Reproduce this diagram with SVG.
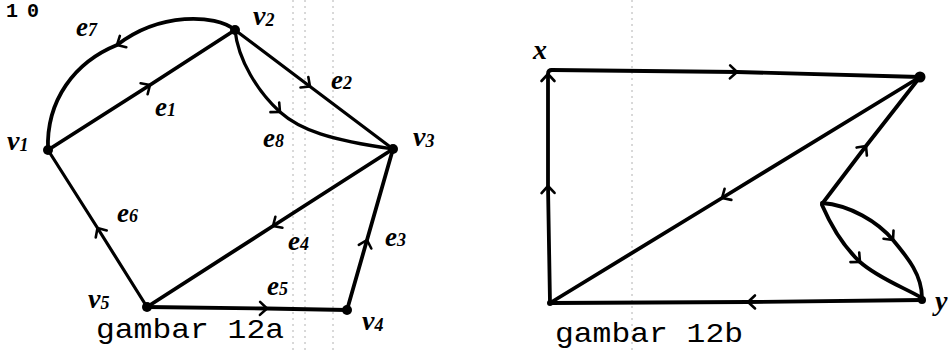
<svg xmlns="http://www.w3.org/2000/svg" width="949" height="351" viewBox="0 0 949 351">
<style>
.edge{fill:none;stroke:#000;stroke-width:3.8;stroke-linecap:round;stroke-linejoin:round;marker-mid:url(#chev)}
.thin{stroke-width:3.2}
.dot{fill:#000}
.lbl{font-family:"Liberation Serif",serif;font-style:italic;font-weight:bold;fill:#000}
.v{font-size:28px}
.e{font-size:27px}
.sub{font-size:18px}
.mono{font-family:"Liberation Mono",monospace;fill:#000}
.scan{stroke:#777;stroke-width:1;stroke-dasharray:2 4;opacity:0.55}
</style>
<defs>
<marker id="chev" markerUnits="userSpaceOnUse" markerWidth="20" markerHeight="20" viewBox="-10 -10 20 20" refX="0" refY="0" orient="auto" overflow="visible">
<path d="M-7,-6.5 L0,0 L-7,6.5" fill="none" stroke="#000" stroke-width="2.6" stroke-linecap="round" stroke-linejoin="round"/>
</marker>
</defs>
<rect width="949" height="351" fill="#fff"/>
<g id="scan-lines">
<line class="scan" x1="293" y1="0" x2="293" y2="351"/>
<line class="scan" x1="305" y1="0" x2="305" y2="351"/>
<line class="scan" x1="333" y1="0" x2="333" y2="351"/>
<line class="scan" x1="632" y1="0" x2="632" y2="351"/>
</g>
<g id="connectors">
<path id="e1" class="edge" d="M48,150 L150,85 L235,30"/>
<path id="e7" class="edge" d="M235,30 C215,14 160,12 117,45 C75,62 46,100 48,150"/>
<path id="e2" class="edge thin" d="M235,30 L310,86.5 L393,149"/>
<path id="e8" class="edge thin" d="M235,30 C238,60 258,92 280,112 C300,130 330,140 393,149"/>
<path id="e4" class="edge" d="M393,149 L273,226 L147,307"/>
<path id="e3" class="edge" d="M347,310 L367,240 L393,149"/>
<path id="e5" class="edge" d="M147,307 L267,308.5 L347,310"/>
<path id="e6" class="edge thin" d="M147,307 L97.5,228 L48,150"/>
<path id="r-left" class="edge" d="M550,303 L548,186 L548,74 Q548,70 552,70"/>
<path id="r-top" class="edge" d="M552,70 L737,72 L920,77"/>
<path id="r-bottom" class="edge" d="M922,300 L748,302 L550,303"/>
<path id="r-diag" class="edge" d="M920,77 L722,198 L550,303"/>
<path id="r-up" class="edge" d="M822,204 L866,146 L920,77"/>
<path id="r-arc1" class="edge" d="M822,203 C850,205 878,222 893,240 C908,258 922,275 922,298"/>
<path id="r-arc2" class="edge" d="M822,205 C832,228 845,248 860,262 C878,278 905,288 922,298"/>
</g>
<g id="v1"><circle class="dot" cx="48" cy="150" r="5"/><text class="lbl v" x="7" y="150">v<tspan class="sub" dy="1">1</tspan></text></g>
<g id="v2"><circle class="dot" cx="235" cy="30" r="5"/><text class="lbl v" x="253" y="25">v<tspan class="sub" dy="1">2</tspan></text></g>
<g id="v3"><circle class="dot" cx="393" cy="149" r="5"/><text class="lbl v" x="413" y="146">v<tspan class="sub" dy="1">3</tspan></text></g>
<g id="v4"><circle class="dot" cx="347" cy="310" r="5"/><text class="lbl v" x="362" y="330">v<tspan class="sub" dy="1">4</tspan></text></g>
<g id="v5"><circle class="dot" cx="147" cy="307" r="5"/><text class="lbl v" x="88" y="308">v<tspan class="sub" dy="1">5</tspan></text></g>
<g id="edge-labels">
<text class="lbl e" x="76" y="36">e<tspan class="sub">7</tspan></text>
<text class="lbl e" x="155" y="116">e<tspan class="sub">1</tspan></text>
<text class="lbl e" x="331" y="89">e<tspan class="sub">2</tspan></text>
<text class="lbl e" x="263" y="147">e<tspan class="sub">8</tspan></text>
<text class="lbl e" x="288" y="250">e<tspan class="sub">4</tspan></text>
<text class="lbl e" x="385" y="246">e<tspan class="sub">3</tspan></text>
<text class="lbl e" x="267" y="295">e<tspan class="sub">5</tspan></text>
<text class="lbl e" x="117" y="222">e<tspan class="sub">6</tspan></text>
</g>
<g id="x"><text class="lbl" x="533" y="59" font-size="28">x</text></g>
<g id="n-topright"><circle class="dot" cx="920" cy="77" r="5.5"/></g>
<g id="y"><circle class="dot" cx="922" cy="300" r="4"/><text class="lbl" x="935" y="310" font-size="28">y</text></g>
<g id="n-bottomleft"><circle class="dot" cx="550" cy="303" r="3"/></g>
<g id="captions">
<text class="mono" y="17" font-size="20" font-weight="bold"><tspan x="6">1</tspan><tspan x="27">0</tspan></text>
<text class="mono" x="96" y="338" font-size="28" textLength="188" lengthAdjust="spacingAndGlyphs">gambar 12a</text>
<text class="mono" x="555" y="342" font-size="28" textLength="188" lengthAdjust="spacingAndGlyphs">gambar 12b</text>
</g>
</svg>
